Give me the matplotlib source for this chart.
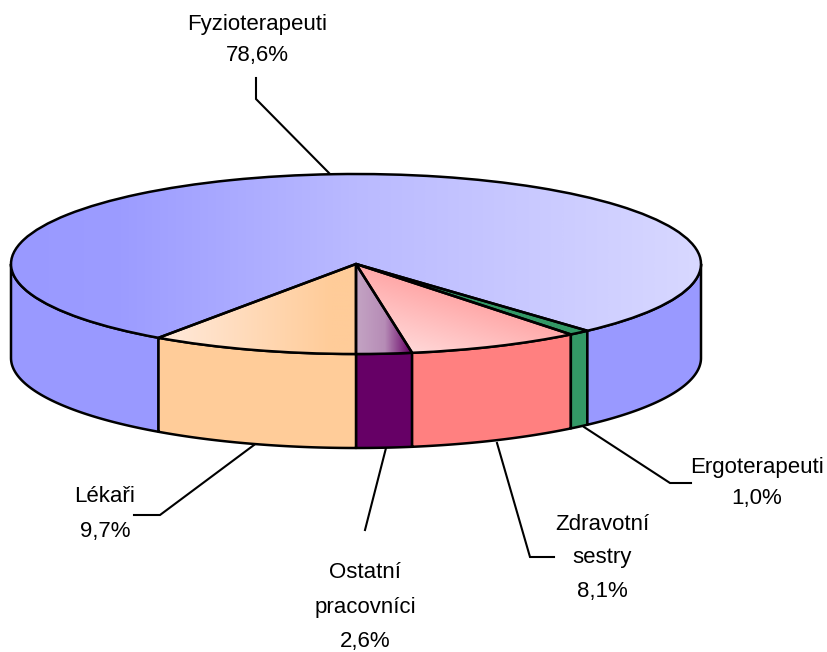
#!/usr/bin/env python3
"""3D-look pie: staff shares, top face from ax.pie, squashed to an ellipse."""
import numpy as np
import matplotlib
matplotlib.use("Agg")
import matplotlib.pyplot as plt
from matplotlib.colors import LinearSegmentedColormap
from matplotlib.patches import Polygon

W, H = 827, 652
CX, CY, RX, RY, DEPTH = 356, 264, 345, 90, 94
LW = 1.8

# counter-clockwise from the front of the pie
names = ["Ostatní\npracovníci", "Zdravotní\nsestry", "Ergoterapeuti", "Fyzioterapeuti", "Lékaři"]
shares = [2.6, 8.1, 1.0, 78.6, 9.7]
share_labels = ["2,6%", "8,1%", "1,0%", "78,6%", "9,7%"]
side_colors = ["#660066", "#FF8080", "#339966", "#9999FF", "#FFCC99"]
top_stops = [["#C4A4C4", "#B68CB6", "#660066"],
             ["#FFA8A8", "#FFD8D8"],
             ["#339966", "#339966"],
             ["#9999FF", "#9C9CFF", "#BABAFF", "#D8D8FF"],
             ["#FFEADC", "#FFCC99", "#FFCC99"]]
top_spans = [(356, 385, 411), None, (356, 587), (11, 120, 356, 701), (160, 330, 356)]

label_pos = [(365, 607), (602, 558), (757, 483), (257, 40), (105, 514)]
label_spacing = [1.85, 1.81, 1.63, 1.63, 1.84]
leaders = [[(386, 448), (365, 530)],
           [(497, 443), (530, 557), (554, 557)],
           [(584, 427), (670, 483), (691, 483)],
           [(330, 174), (256, 99), (256, 78)],
           [(254, 445), (160, 515), (134, 515)]]

plt.rcParams["font.family"] = ["Liberation Sans Narrow", "Liberation Sans", "DejaVu Sans"]


def to_data(x, y):
    # picture pixels to the unit-circle data space of the pie
    return (x - CX) / RX, (CY - y) / RY


fig = plt.figure(figsize=(W / 100, H / 100), dpi=100)
ax = fig.add_axes([0, 0, 1, 1])
wedges, _ = ax.pie(shares, colors=side_colors, startangle=270, counterclock=True, radius=1,
                   wedgeprops={"edgecolor": "black", "linewidth": LW, "zorder": 4, "joinstyle": "round"})
ax.set_aspect("auto")

# side wall: only the front half of the rim is visible
d = DEPTH / RY
for w, col in zip(wedges, side_colors):
    t1, t2 = np.radians(w.theta1), np.radians(w.theta2)
    for off in (0, 2 * np.pi, 4 * np.pi):
        lo, hi = max(t1 - off, -np.pi), min(t2 - off, 0)
        if hi <= lo:
            continue
        t = np.linspace(lo, hi, 120)
        xs = np.cos(t); ys = np.sin(t)
        pts = np.r_[np.c_[xs, ys], np.c_[xs[::-1], ys[::-1] - d]]
        ax.add_patch(Polygon(pts, closed=True, facecolor=col, edgecolor="black",
                             linewidth=LW, zorder=2, joinstyle="round"))

# gradient fills on the top face, clipped to each wedge
for w, stops, span in zip(wedges, top_stops, top_spans):
    if span is None:
        # this one runs across the wedge, from its upper edge downward
        px, py = np.meshgrid(np.arange(340, 600), np.arange(255, 365))
        u = (-(px - 356) * 69 + (py - 264) * 216) / 227 / 67
        arr = np.clip(u, 0, 1)
        cmap = LinearSegmentedColormap.from_list("g", stops)
        ext = (to_data(340, 0)[0], to_data(600, 0)[0], to_data(0, 365)[1], to_data(0, 255)[1])
        im = ax.imshow(arr, cmap=cmap, vmin=0, vmax=1, extent=ext, origin="upper",
                       aspect="auto", zorder=3)
    else:
        pos = [(s - span[0]) / (span[-1] - span[0]) for s in span]
        cmap = LinearSegmentedColormap.from_list("g", list(zip(pos, stops)))
        ext = (to_data(span[0], 0)[0], to_data(span[-1], 0)[0], -1.05, 1.05)
        im = ax.imshow(np.linspace(0, 1, 512)[None, :], cmap=cmap, extent=ext,
                       aspect="auto", zorder=3, interpolation="bilinear")
    im.set_clip_path(w)
    w.set_facecolor("none")
ax.set_xlim(to_data(0, 0)[0], to_data(W, 0)[0])
ax.set_ylim(to_data(0, H)[1], to_data(0, 0)[1])

# leader lines and labels
for pts in leaders:
    xy = np.array([to_data(*p) for p in pts])
    ax.plot(xy[:, 0], xy[:, 1], color="black", lw=1.5, zorder=1, solid_joinstyle="miter")
for name, val, (x, y), ls in zip(names, share_labels, label_pos, label_spacing):
    tx, ty = to_data(x, y)
    ax.text(tx, ty, f"{name}\n{val}", ha="center", va="center", fontsize=16, color="black",
            linespacing=ls, zorder=6)

fig.savefig("out.png", dpi=100, facecolor="white")
